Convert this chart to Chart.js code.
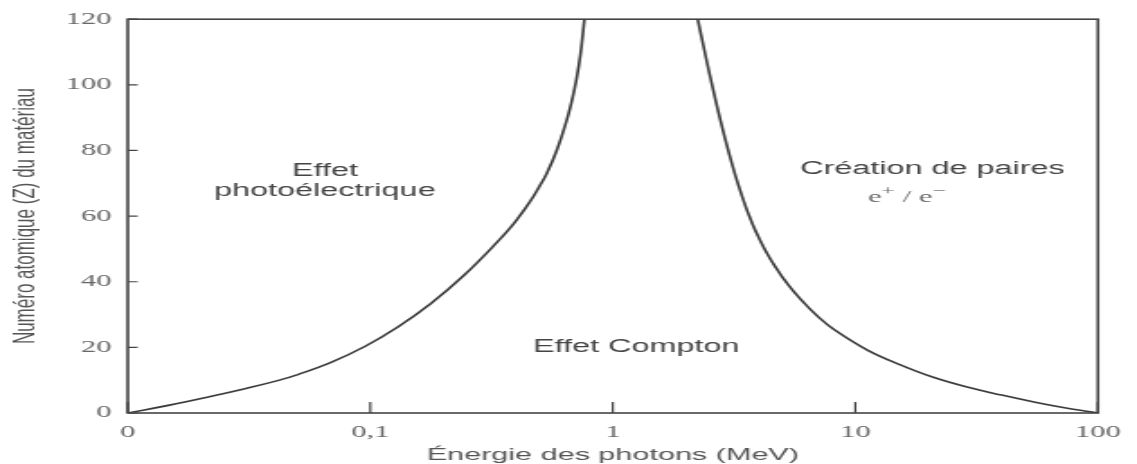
<!DOCTYPE html>
<html><head><meta charset="utf-8">
<script src="https://cdn.jsdelivr.net/npm/chart.js@4"></script>
<style>
html,body{margin:0;padding:0;background:#fff;overflow:hidden;}
#wrap{width:632px;height:464px;transform:scaleX(1.79905);transform-origin:0 0;}
canvas{display:block;}
</style></head><body>
<div id="wrap"><canvas id="c" width="632" height="464"></canvas></div>
<script>
// ---- data ----
const tickValues = [0.01, 0.1, 1, 10, 100];
const tickLabels = ['0', '0,1', '1', '10', '100'];
const yTickValues = [0, 20, 40, 60, 80, 100, 120];
// boundary photoelectric / Compton
const photoEnergy = [0.01, 0.01486, 0.0219, 0.0301, 0.0411, 0.0506, 0.0693, 0.0949, 0.1299, 0.1778, 0.2435, 0.3334, 0.3904, 0.4564, 0.494, 0.534, 0.587, 0.645, 0.676, 0.709, 0.736, 0.764];
const photoZ      = [0,    2.4,     5.03,   7.33,   9.79,   11.79,  15.52,  20.27,  26.21,  33.36,  41.97,  52.06,  57.7,   64.5,   68.6,  73.0,  80.0,  89.1,  94.8,  101.9, 109.5, 120];
// boundary Compton / pair creation
const pairEnergy = [2.239, 2.403, 2.579, 2.781, 2.999, 3.203, 3.412, 3.622, 3.869, 4.251, 4.671, 5.279, 6.007, 7.007, 8.222, 11.26, 15.42, 21.11, 28.89, 40.1, 55.75, 71.9, 92.7, 100];
const pairZ      = [120,   109.4, 99.2,  89.0,  79.7,  72.3,  66.0,  60.7,  55.6,  49.6,  44.6,  39.1,  34.3,  29.4,  25.3,  19.1,  14.6,  10.8,  7.9,   5.45, 3.2,   1.67, 0.36, 0];
// region labels (energy, Z)
const regionLabels = ['Effet', 'photoélectrique', 'Effet Compton', 'Création de paires'];
const regionLabelE = [0.065, 0.065, 1.25, 20.8];
const regionLabelZ = [73.6, 67.6, 20, 74.2];
const pairSubE = 16.3, pairSubZ = 65.8;

const toPts = (xs, ys) => xs.map((v, i) => ({x: v, y: ys[i]}));

const deco = {
  id: 'deco',
  afterDraw(chart) {
    const {ctx, chartArea: a, scales: {x, y}} = chart;
    ctx.save();
    ctx.strokeStyle = '#444';
    ctx.lineWidth = 1.6;
    ctx.strokeRect(a.left, a.top, a.right - a.left, a.bottom - a.top);
    ctx.lineWidth = 1.2;
    ctx.beginPath();
    tickValues.forEach(v => { const px = x.getPixelForValue(v); ctx.moveTo(px, a.bottom); ctx.lineTo(px, a.bottom - 11); });
    yTickValues.forEach(v => { const py = y.getPixelForValue(v); ctx.moveTo(a.left, py); ctx.lineTo(a.left + 5.5, py); });
    ctx.stroke();

    ctx.fillStyle = '#444';
    ctx.textAlign = 'center';
    ctx.textBaseline = 'middle';
    ctx.font = '18px "Liberation Sans", Arial, sans-serif';
    regionLabels.forEach((t, i) => {
      ctx.fillText(t, x.getPixelForValue(regionLabelE[i]), y.getPixelForValue(regionLabelZ[i]));
    });

    // e+ / e-
    const segs = [['e', 17, 0], ['+', 13, -5], [' / e', 17, 0], ['\u2212', 13, -5]];
    ctx.fillStyle = '#666';
    ctx.textAlign = 'left';
    let total = 0;
    segs.forEach(s => { ctx.font = s[1] + 'px "Liberation Serif", serif'; total += ctx.measureText(s[0]).width; });
    let cx = x.getPixelForValue(pairSubE) - total / 2;
    const cy = y.getPixelForValue(pairSubZ);
    segs.forEach(s => {
      ctx.font = s[1] + 'px "Liberation Serif", serif';
      ctx.fillText(s[0], cx, cy + s[2]);
      cx += ctx.measureText(s[0]).width;
    });
    ctx.restore();
  }
};

new Chart(document.getElementById('c'), {
  type: 'scatter',
  data: {
    datasets: [
      {data: toPts(photoEnergy, photoZ), showLine: true, borderColor: '#3a3a3a', borderWidth: 1.6, pointRadius: 0, tension: 0.4},
      {data: toPts(pairEnergy, pairZ), showLine: true, borderColor: '#3a3a3a', borderWidth: 1.6, pointRadius: 0, tension: 0.4}
    ]
  },
  options: {
    responsive: false,
    animation: false,
    layout: {padding: {top: 17, right: 18, left: 0, bottom: 0}},
    plugins: {legend: {display: false}, tooltip: {enabled: false}},
    scales: {
      x: {
        type: 'logarithmic', min: 0.01, max: 100,
        afterBuildTicks: s => { s.ticks = tickValues.map(v => ({value: v})); },
        afterFit: s => { s.height = 51; },
        grid: {display: false, drawTicks: false},
        border: {display: false},
        ticks: {
          callback: v => tickLabels[tickValues.indexOf(v)],
          font: {family: '"Liberation Serif", serif', size: 17},
          color: '#666', padding: 9, maxRotation: 0, autoSkip: false
        },
        title: {display: true, text: 'Énergie des photons (MeV)', color: '#555',
          font: {family: '"Liberation Sans", Arial, sans-serif', size: 17, lineHeight: 1}, padding: {top: 0, bottom: 0}}
      },
      y: {
        type: 'linear', min: 0, max: 120,
        afterBuildTicks: s => { s.ticks = yTickValues.map(v => ({value: v})); },
        afterFit: s => { s.width = 71; },
        grid: {display: false, drawTicks: false},
        border: {display: false},
        ticks: {font: {family: '"Liberation Serif", serif', size: 17}, color: '#666', padding: 9},
        title: {display: true, text: 'Numéro atomique (Z) du matériau', color: '#555',
          font: {family: '"Liberation Sans", Arial, sans-serif', size: 17, lineHeight: 1.2}, padding: {top: 4, bottom: 0}}
      }
    }
  },
  plugins: [deco]
});
</script>
</body></html>
